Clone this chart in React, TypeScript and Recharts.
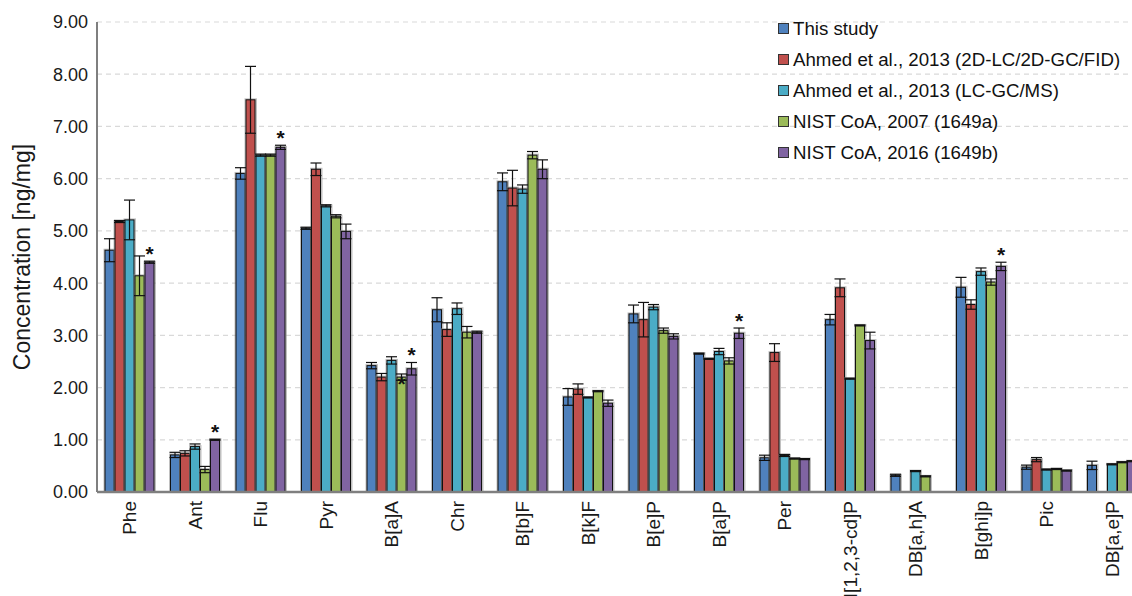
import React from "react";
import { BarChart, Bar, XAxis, YAxis, CartesianGrid, ErrorBar, LabelList, Legend } from "recharts";

const FONT = "'Liberation Sans', Arial, Helvetica, sans-serif";

const categories = ["Phe", "Ant", "Flu", "Pyr", "B[a]A", "Chr", "B[b]F", "B[k]F", "B[e]P", "B[a]P", "Per", "I[1,2,3-cd]P", "DB[a,h]A", "B[ghi]p", "Pic", "DB[a,e]P"];

const thisStudy = [4.63, 0.71, 6.10, 5.05, 2.42, 3.49, 5.94, 1.82, 3.41, 2.65, 0.655, 3.30, 0.32, 3.92, 0.475, 0.51];
const thisStudyErr = [0.22, 0.05, 0.11, 0.02, 0.06, 0.23, 0.17, 0.16, 0.17, 0.01, 0.05, 0.10, 0.02, 0.19, 0.04, 0.08];

const ahmedFid = [5.18, 0.74, 7.51, 6.18, 2.20, 3.11, 5.82, 1.97, 3.30, 2.55, 2.67, 3.91, null, 3.59, 0.62, null];
const ahmedFidErr = [0.02, 0.05, 0.64, 0.12, 0.07, 0.13, 0.34, 0.10, 0.33, 0.01, 0.17, 0.17, null, 0.09, 0.04, null];

const ahmedMs = [5.21, 0.87, 6.45, 5.48, 2.52, 3.51, 5.80, 1.81, 3.54, 2.69, 0.70, 2.17, 0.40, 4.22, 0.43, 0.53];
const ahmedMsErr = [0.38, 0.05, 0.02, 0.02, 0.07, 0.11, 0.08, 0.01, 0.05, 0.06, 0.02, 0.01, 0.01, 0.07, 0.01, 0.01];

const nist2007 = [4.14, 0.43, 6.45, 5.28, 2.20, 3.06, 6.45, 1.93, 3.09, 2.51, 0.64, 3.19, 0.30, 4.02, 0.44, 0.57];
const nist2007Err = [0.38, 0.06, 0.02, 0.03, 0.06, 0.11, 0.07, 0.01, 0.05, 0.06, 0.01, 0.01, 0.01, 0.06, 0.01, 0.01];
const nist2007Mark = ["", "", "", "", "*", "", "", "", "", "", "", "", "", "", "", ""];

const nist2016 = [4.40, 1.00, 6.60, 4.99, 2.36, 3.06, 6.18, 1.70, 2.98, 3.04, 0.63, 2.90, null, 4.32, 0.41, 0.59];
const nist2016Err = [0.02, 0.01, 0.04, 0.14, 0.12, 0.02, 0.18, 0.06, 0.05, 0.10, 0.01, 0.16, null, 0.08, 0.01, 0.01];
const nist2016Mark = ["*", "*", "*", "", "*", "", "", "", "", "*", "", "", "", "*", "", ""];

const yTicks = [0, 1, 2, 3, 4, 5, 6, 7, 8, 9];

const seriesNames = ["This study", "Ahmed et al., 2013 (2D-LC/2D-GC/FID)", "Ahmed et al., 2013 (LC-GC/MS)", "NIST CoA, 2007 (1649a)", "NIST CoA, 2016 (1649b)"];
const seriesColors = ["#4F81BD", "#C0504D", "#4BACC6", "#9BBB59", "#8064A2"];
const seriesValues = [thisStudy, ahmedFid, ahmedMs, nist2007, nist2016];
const seriesErrors = [thisStudyErr, ahmedFidErr, ahmedMsErr, nist2007Err, nist2016Err];
const seriesMarks: (string[] | null)[] = [null, null, null, nist2007Mark, nist2016Mark];
const markOffsets = [0, 0, 0, -17.5, 0];

// rendered bars skip null values: map rendered index -> category index
const renderedIndex = seriesValues.map((vals) => vals.map((v, i) => (v == null ? -1 : i)).filter((i) => i >= 0));

const data = categories.map((cat, i) => {
  const row: any = { cat };
  seriesValues.forEach((vals, s) => {
    row[`s${s}`] = vals[i];
    row[`e${s}`] = seriesErrors[s][i];
  });
  return row;
});

const BarShape = (props: any) => {
  const { x, y, width, height, fill } = props;
  if (!height || height <= 0 || x == null) return null;
  return (
    <g>
      <rect x={x - 1.5} y={y - 1.5} width={width + 3.5} height={height + 1.5} fill="#8c8c8c" opacity={0.55} />
      <rect x={x} y={y} width={width} height={height} fill={fill} stroke="#111" strokeWidth={1} />
    </g>
  );
};

const makeMark = (s: number) => (props: any) => {
  const { x, y, width, height, index, value } = props;
  const marks = seriesMarks[s];
  const ci = renderedIndex[s][index];
  if (!marks || ci == null || !marks[ci] || !value) return null;
  const pxPer = height / value;
  const err = seriesErrors[s][ci] || 0;
  const errTop = y - err * pxPer;
  return (
    <text x={x + width / 2} y={errTop - markOffsets[s]} textAnchor="middle" fontSize={21} fontWeight="bold" fontFamily={FONT} fill="#111">
      {marks[ci]}
    </text>
  );
};

const XTick = (props: any) => {
  const { x, y, payload } = props;
  const ty = y + 1;
  return (
    <text x={x} y={ty} transform={`rotate(-90 ${x} ${ty})`} textAnchor="end" dy="0.35em" fontSize={19} fontFamily={FONT} fill="#1a1a1a">
      {payload.value}
    </text>
  );
};

const renderLegend = () => (
  <div style={{ fontFamily: FONT, fontSize: 18.7, color: "#111" }}>
    {seriesNames.map((n, i) => (
      <div key={n} style={{ display: "flex", alignItems: "center", height: 31, whiteSpace: "nowrap" }}>
        <span style={{ display: "inline-block", width: 9, height: 9, background: seriesColors[i], border: "1px solid #333", marginRight: 4 }} />
        <span>{n}</span>
      </div>
    ))}
  </div>
);

const YLabel = () => (
  <text x={22} y={257} transform="rotate(-90 22 257)" textAnchor="middle" dominantBaseline="central" fontSize={23} fontFamily={FONT} fill="#1a1a1a">
    Concentration [ng/mg]
  </text>
);

export default function App() {
  return (
    <div style={{ position: "absolute", left: 0, top: 0, width: 1132, height: 596, overflow: "hidden", background: "#fff" }}>
      <BarChart width={1150} height={596} data={data} margin={{ top: 22, right: 5, bottom: 0, left: 0 }} barSize={9} barGap={1}>
        <CartesianGrid vertical={false} stroke="#d9d9d9" strokeDasharray="5 4" strokeWidth={1.2} />
        <XAxis dataKey="cat" interval={0} height={104} tickLine={false} axisLine={{ stroke: "#7f7f7f", strokeWidth: 2.5 }} tick={<XTick />} />
        <YAxis
          domain={[0, 9]}
          ticks={yTicks}
          width={97}
          tickLine={false}
          tickSize={6}
          tickMargin={3}
          axisLine={{ stroke: "#7f7f7f", strokeWidth: 2 }}
          tickFormatter={(v: number) => v.toFixed(2)}
          tick={{ fontSize: 18, fill: "#1a1a1a", fontFamily: FONT }}
          label={{ content: () => <YLabel /> }}
        />
        <Legend layout="vertical" align="center" verticalAlign="middle" content={renderLegend} wrapperStyle={{ position: "absolute", left: 778, top: 13, width: 360 }} />
        {seriesNames.map((n, s) => (
          <Bar key={n} dataKey={`s${s}`} name={n} fill={seriesColors[s]} isAnimationActive={false} shape={<BarShape />}>
            <ErrorBar dataKey={`e${s}`} width={5.5} stroke="#111" strokeWidth={1.2} />
            {seriesMarks[s] ? <LabelList dataKey={`s${s}`} content={makeMark(s)} /> : null}
          </Bar>
        ))}
      </BarChart>
    </div>
  );
}
